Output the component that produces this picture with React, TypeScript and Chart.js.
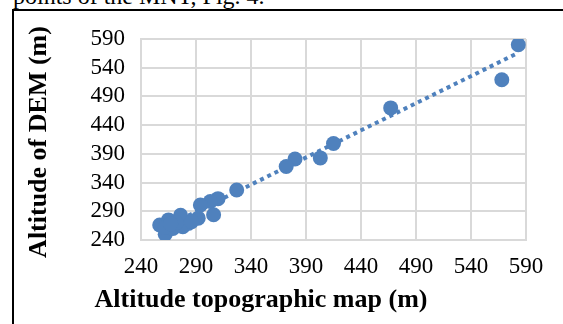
import React, { useEffect, useRef } from "react";
import { Chart, registerables } from "chart.js";

Chart.register(...registerables);

// Observed points: altitude on topographic map (x) vs altitude of DEM (y)
const topoAltitude = [583, 568, 467, 415, 403, 380, 372, 327, 310, 303, 294, 306, 292, 283, 276, 265, 257, 262, 269, 278, 272, 286, 262, 267];
const demAltitude = [580, 519, 470, 408, 383, 381, 368, 327, 312, 307, 301, 284, 278, 269, 283, 275, 266, 250, 260, 263, 270, 272, 262, 268];

// Linear trendline end points
const trendX = [257, 583];
const trendY = [258, 566];

const axisMin = 240;
const axisMax = 590;
const axisStep = 50;

const xTitle = "Altitude topographic map (m)";
const yTitle = "Altitude of DEM (m)";
const caption = "points of the MNT, Fig. 4.";

const BLUE = "#4f81bd";
const GRID = "#d9d9d9";
const SERIF = '"Liberation Serif", "Times New Roman", serif';

const titlePlugin = {
  id: "axisTitlesCustom",
  afterDraw(chart: any) {
    const ctx = chart.ctx;
    ctx.save();
    ctx.fillStyle = "#000";
    ctx.font = `bold 26px ${SERIF}`;
    ctx.textAlign = "center";
    ctx.textBaseline = "alphabetic";
    ctx.fillText(xTitle, 261, 307);
    ctx.translate(46, 142);
    ctx.rotate(-Math.PI / 2);
    ctx.fillText(yTitle, 0, 0);
    ctx.restore();
  },
};

export default function App() {
  const canvasRef = useRef<HTMLCanvasElement | null>(null);

  useEffect(() => {
    if (!canvasRef.current) return;
    const points = topoAltitude.map((x, i) => ({ x, y: demAltitude[i] }));
    const trend = trendX.map((x, i) => ({ x, y: trendY[i] }));
    const tickFont = { family: SERIF, size: 23, lineHeight: 1 };

    const chart = new Chart(canvasRef.current, {
      type: "scatter",
      data: {
        datasets: [
          {
            label: "DEM",
            data: points,
            backgroundColor: BLUE,
            borderColor: BLUE,
            pointRadius: 7.5,
            pointBorderWidth: 0,
            order: 0,
          },
          {
            label: "Trend",
            data: trend,
            showLine: true,
            borderColor: BLUE,
            borderWidth: 4,
            borderDash: [4, 4],
            borderCapStyle: "butt",
            pointRadius: 0,
            order: 1,
          } as any,
        ],
      },
      options: {
        responsive: false,
        animation: false,
        devicePixelRatio: 1,
        layout: { padding: { top: 39, right: 37, left: 0, bottom: 0 } },
        plugins: {
          legend: { display: false },
          tooltip: { enabled: false },
          title: { display: false },
        },
        scales: {
          x: {
            type: "linear",
            min: axisMin,
            max: axisMax,
            afterFit: (s: any) => {
              s.height = 84;
            },
            ticks: {
              stepSize: axisStep,
              font: tickFont,
              color: "#000",
              padding: 15,
              maxRotation: 0,
              autoSkip: false,
            },
            grid: { color: GRID, lineWidth: 2, drawTicks: false },
            border: { color: GRID, width: 2 },
          },
          y: {
            type: "linear",
            min: axisMin,
            max: axisMax,
            afterFit: (s: any) => {
              s.width = 141;
            },
            ticks: {
              stepSize: axisStep,
              font: tickFont,
              color: "#000",
              padding: 16,
              autoSkip: false,
            },
            grid: { color: GRID, lineWidth: 2, drawTicks: false },
            border: { color: GRID, width: 2 },
          },
        },
      },
      plugins: [titlePlugin],
    });
    return () => chart.destroy();
  }, []);

  return (
    <div
      style={{
        position: "fixed",
        left: 0,
        top: 0,
        width: 563,
        height: 324,
        overflow: "hidden",
        background: "#fff",
      }}
    >
      <div
        style={{
          position: "absolute",
          left: 13,
          top: -16,
          fontFamily: SERIF,
          fontSize: 24,
          lineHeight: "24px",
          whiteSpace: "nowrap",
          color: "#000",
        }}
      >
        {caption}
      </div>
      <div
        style={{
          position: "absolute",
          left: 12,
          top: 9,
          width: 700,
          height: 500,
          borderLeft: "2px solid #000",
          borderTop: "2px solid #000",
        }}
      />
      <canvas
        ref={canvasRef}
        width={563}
        height={324}
        style={{ position: "absolute", left: 0, top: 0, width: 563, height: 324 }}
      />
    </div>
  );
}
